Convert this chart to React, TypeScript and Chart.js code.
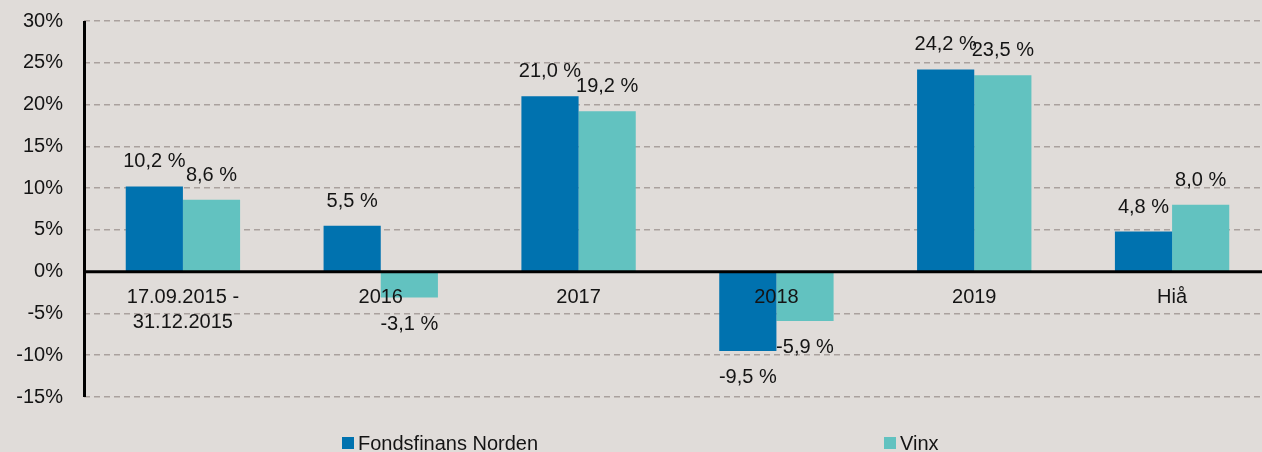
import React, { useEffect, useRef } from "react";
import { Chart, registerables } from "chart.js";

Chart.register(...registerables);

const categories: string[][] = [["17.09.2015 -", "31.12.2015"], ["2016"], ["2017"], ["2018"], ["2019"], ["Hiå"]];
const fondsfinans: number[] = [10.2, 5.5, 21.0, -9.5, 24.2, 4.8];
const vinx: number[] = [8.6, -3.1, 19.2, -5.9, 23.5, 8.0];
const seriesNames: string[] = ["Fondsfinans Norden", "Vinx"];
const yMin = -15;
const yMax = 30;
const yStep = 5;

const BG = "#e0dcd9";
const BLUE = "#0072af";
const TEAL = "#62c2c0";
const TEXT = "#141414";
const FONT = "'Liberation Sans', Arial, sans-serif";

const fmt = (v: number) => v.toFixed(1).replace(".", ",") + " %";

const customPlugin = {
  id: "custom",
  beforeDraw(chart: any) {
    const { ctx, width, height } = chart;
    ctx.save();
    ctx.fillStyle = BG;
    ctx.fillRect(0, 0, width, height);
    ctx.restore();
  },
  afterDatasetsDraw(chart: any) {
    const { ctx, chartArea, scales } = chart;
    const y = scales.y;
    const x = scales.x;
    ctx.save();
    // axis line
    ctx.strokeStyle = "#000";
    ctx.lineWidth = 3;
    ctx.beginPath();
    ctx.moveTo(chartArea.left + 0.5, chartArea.top);
    ctx.lineTo(chartArea.left + 0.5, chartArea.bottom);
    ctx.stroke();
    // zero line
    const y0 = y.getPixelForValue(0);
    ctx.beginPath();
    ctx.moveTo(chartArea.left, y0);
    ctx.lineTo(chartArea.right, y0);
    ctx.stroke();

    ctx.fillStyle = TEXT;
    ctx.font = `20px ${FONT}`;
    ctx.textAlign = "center";
    ctx.textBaseline = "middle";
    // category labels
    categories.forEach((lines, i) => {
      const cx = x.getPixelForValue(i);
      lines.forEach((ln, j) => {
        ctx.fillText(ln, cx, y0 + 26 + j * 25);
      });
    });
    // value labels
    chart.data.datasets.forEach((ds: any, di: number) => {
      const meta = chart.getDatasetMeta(di);
      meta.data.forEach((bar: any, i: number) => {
        const v = ds.data[i];
        const ty = v >= 0 ? bar.y - 24.5 : bar.y + 26.5;
        ctx.fillText(fmt(v), bar.x, ty);
      });
    });

    // legend
    ctx.textAlign = "left";
    ctx.textBaseline = "alphabetic";
    const legendItems = [
      { x: 342, color: BLUE, label: seriesNames[0] },
      { x: 884, color: TEAL, label: seriesNames[1] },
    ];
    legendItems.forEach((it) => {
      ctx.fillStyle = it.color;
      ctx.fillRect(it.x, 437, 12, 12);
      ctx.fillStyle = TEXT;
      ctx.fillText(it.label, it.x + 16, 450);
    });
    ctx.restore();
  },
};

export default function App() {
  const canvasRef = useRef<HTMLCanvasElement | null>(null);

  useEffect(() => {
    if (!canvasRef.current) return;
    const chart = new Chart(canvasRef.current, {
      type: "bar",
      data: {
        labels: categories.map((c) => c.join(" ")),
        datasets: [
          {
            label: seriesNames[0],
            data: fondsfinans,
            backgroundColor: BLUE,
            barPercentage: 1,
            categoryPercentage: 0.578,
          },
          {
            label: seriesNames[1],
            data: vinx,
            backgroundColor: TEAL,
            barPercentage: 1,
            categoryPercentage: 0.578,
          },
        ],
      },
      options: {
        animation: false,
        responsive: false,
        maintainAspectRatio: false,
        devicePixelRatio: 1,
        layout: { padding: { top: 21, bottom: 55, left: 0, right: 0 } },
        plugins: {
          legend: { display: false },
          tooltip: { enabled: false },
        },
        scales: {
          x: {
            display: false,
          },
          y: {
            min: yMin,
            max: yMax,
            afterFit: (s: any) => {
              s.width = 84;
              s.paddingTop = 0;
              s.paddingBottom = 0;
            },
            ticks: {
              stepSize: yStep,
              padding: 21,
              color: TEXT,
              font: { family: FONT, size: 20 },
              callback: (v: any) => `${v}%`,
            },
            grid: {
              drawTicks: false,
              lineWidth: 1.5,
              color: (c: any) => (c.tick && c.tick.value === 0 ? "rgba(0,0,0,0)" : "#aaa19e"),
            },
            border: { display: false, dash: [6, 4] },
          },
        },
      },
      plugins: [customPlugin],
    });
    return () => chart.destroy();
  }, []);

  return (
    <div
      style={{
        position: "fixed",
        left: 0,
        top: 0,
        width: 1262,
        height: 452,
        overflow: "hidden",
        background: BG,
      }}
    >
      <canvas ref={canvasRef} width={1271} height={452} style={{ display: "block", width: 1271, height: 452 }} />
    </div>
  );
}
